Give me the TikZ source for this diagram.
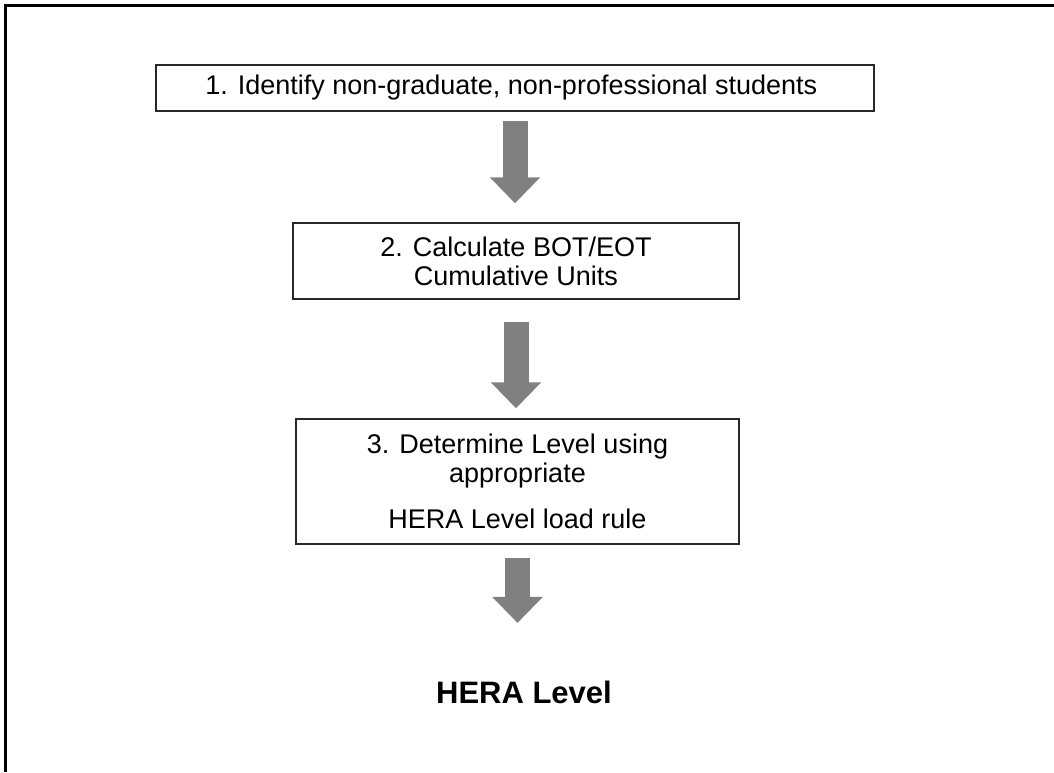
\documentclass[tikz,border=0pt]{standalone}
\usepackage{fontspec}
\setmainfont{Liberation Sans}
\usetikzlibrary{arrows.meta}
\definecolor{arrowgray}{RGB}{128,128,128}
\definecolor{boxline}{RGB}{40,40,40}
\begin{document}
\begin{tikzpicture} [
		x = 1pt,
		y = -1pt,
		step-box/.style = {
			rectangle,
			draw = boxline,
			line width = 1.5pt,
			inner sep = 0pt,
			align = center,
			font = \fontsize{27}{29}\selectfont,
		},
		result-text/.style = {
			inner sep = 0pt,
			font = \fontsize{31}{35}\selectfont\bfseries,
		},
		block-arrow/.style = {
			draw = arrowgray,
			line width = 25pt,
			-{Triangle[width = 49pt, length = 26pt]},
		},
		frame/.style = {
			draw = black,
			line width = 3pt,
		}
	]

	\useasboundingbox (0,0) rectangle (1054,772);
	\path[frame] (1054,5.5) -- (5.5,5.5) -- (5.5,772);

	\node[step-box, minimum width = 718pt, minimum height = 46pt] (identify) at (515,88) {
		1. Identify non-graduate, non-professional students
	};
	\node[step-box, minimum width = 446pt, minimum height = 76pt] (calculate) at (516,261) {
		2. Calculate BOT/EOT\\
		Cumulative Units
	};
	\node[step-box, minimum width = 443pt, minimum height = 125pt] (determine) at (517.5,481.5) {
		3. Determine Level using\\
		appropriate\\[17pt]
		HERA Level load rule
	};
	\node[result-text] (level) at (524,692.5) {HERA Level};

	\begin{scope} [
		every path/.style = block-arrow
		]
		\path[shorten <= 9pt, shorten >= 19pt] (identify.south) -- (identify.south |- calculate.north);
		\path[shorten <= 22pt, shorten >= 10pt] (calculate.south) -- (calculate.south |- determine.north);
		\path[shorten <= 13pt, shorten >= 58pt] (determine.south) -- (determine.south |- level.north);
	\end{scope}
\end{tikzpicture}
\end{document}
